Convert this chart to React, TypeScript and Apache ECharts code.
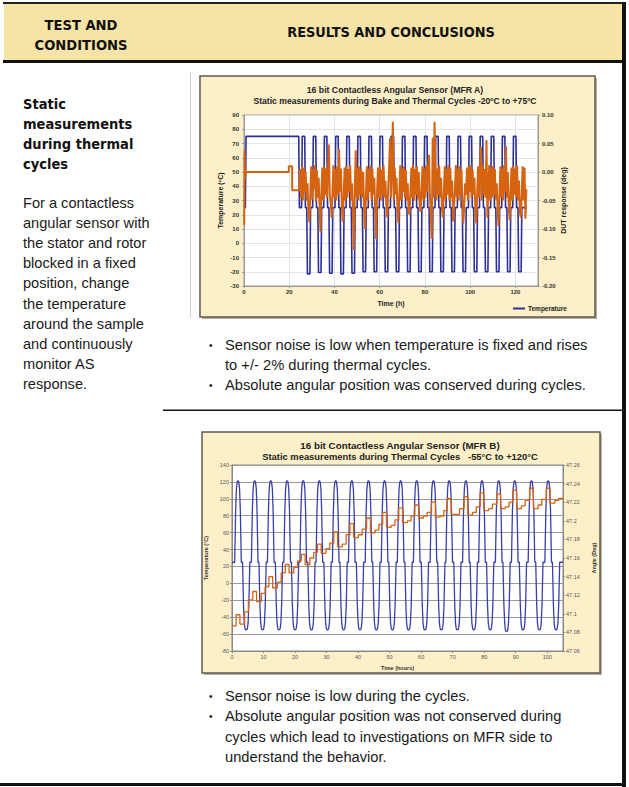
import React, { useEffect, useRef } from "react";
import * as echarts from "echarts";

// ---------- Chart A (MFR A) data ----------
const bakeTempA = [[0, 25], [0.6, 25], [0.9, 75], [24.2, 75], [24.5, 25]];
const highsA = [26.3, 31.2, 36.1, 41.1, 46.0, 50.9, 55.8, 60.7, 65.6, 70.6, 75.5, 80.4, 85.3, 90.2, 95.2, 100.1, 105.0, 109.9, 114.8, 119.7];
const lowsA = [28.6, 33.5, 38.4, 43.4, 48.3, 53.2, 58.1, 63.0, 67.9, 72.9, 77.8, 82.7, 87.6, 92.5, 97.4, 102.4, 107.3, 112.2, 117.1, 122.0];
const lowLevelsA = [-21.5, -20.5, -21, -21.5, -21, -20, -20, -20, -20, -20, -20, -20, -20, -20, -20, -20, -20, -20, -20, -20];
const hotLevelA = 75;
const roomLevelA = 25;
const endTimeA = 125.0;

const responseEarlyA = [[0.1, -0.093], [0.25, 0.0375], [0.45, -0.012], [0.9, 0.0], [19.8, 0.0], [19.8, 0.01], [21.3, 0.01], [21.3, -0.032], [24.4, -0.032]];
const responseStartA = 24.4;
const responseStepA = 0.41;
const responseNoiseA = [
  -0.030, 0.005, -0.045, 0.010, -0.050, 0.008, -0.035, 0.000, -0.050, -0.020, -0.070, -0.088,
  -0.040, 0.010, -0.048, 0.005, -0.030, 0.012, -0.052, 0.004, -0.045, -0.010, -0.060, -0.105,
  -0.035, 0.008, -0.050, 0.010, -0.040, 0.006, -0.045, 0.000, 0.048, -0.040, -0.055, -0.080,
  -0.030, 0.012, -0.045, 0.005, -0.050, 0.010, -0.040, 0.040, -0.035, 0.006, -0.060, -0.087,
  -0.040, 0.008, -0.050, 0.010, -0.045, 0.005, -0.035, 0.012, -0.050, -0.020, -0.075, -0.137,
  -0.030, 0.038, -0.045, 0.008, -0.050, 0.010, -0.040, 0.004, -0.045, 0.000, -0.065, -0.100,
  -0.040, 0.010, -0.050, 0.006, -0.035, 0.012, -0.048, 0.005, -0.040, -0.010, -0.070, -0.118,
  -0.035, 0.008, -0.045, 0.010, -0.050, 0.004, -0.040, 0.012, -0.045, -0.015, -0.060, -0.080,
  -0.030, 0.010, 0.059, -0.045, 0.005, 0.088, -0.050, 0.008, -0.040, -0.010, -0.065, -0.090,
  -0.040, 0.012, -0.050, 0.006, -0.035, 0.010, -0.045, 0.004, -0.050, -0.020, -0.070, -0.075,
  -0.035, 0.008, -0.045, 0.012, -0.050, 0.005, -0.040, 0.010, -0.048, 0.000, -0.060, -0.070,
  -0.030, 0.010, -0.050, 0.006, -0.045, 0.012, -0.035, 0.005, 0.030, -0.040, -0.080, -0.117,
  0.060, -0.045, 0.088, 0.010, -0.050, 0.006, -0.040, 0.012, -0.045, -0.010, -0.065, -0.080,
  -0.035, 0.010, -0.048, 0.005, -0.040, 0.012, -0.050, 0.008, -0.045, -0.015, -0.087, -0.060,
  -0.030, 0.012, -0.045, 0.006, -0.050, 0.010, -0.040, 0.004, -0.050, -0.090, -0.060, -0.020,
  -0.040, 0.008, -0.050, 0.010, -0.035, 0.012, -0.045, 0.005, -0.040, -0.010, -0.070, -0.090,
  -0.035, 0.010, -0.045, 0.006, 0.044, -0.050, 0.012, -0.040, 0.005, -0.045, 0.056, -0.080,
  -0.030, 0.012, -0.050, 0.008, -0.045, 0.010, -0.040, 0.005, -0.048, -0.020, -0.065, -0.095,
  -0.040, 0.010, -0.045, 0.006, -0.050, 0.012, -0.035, 0.045, -0.045, 0.000, -0.060, -0.085,
  -0.035, 0.008, -0.050, 0.010, -0.040, 0.006, -0.045, 0.012, -0.050, -0.015, -0.070, -0.080,
  -0.040, 0.010, -0.050, 0.008, -0.082, -0.030,
];

// ---------- Chart B (MFR B) data ----------
const highsB = [1.9, 7.2, 12.3, 17.5, 22.6, 27.7, 32.9, 38.0, 43.3, 48.4, 53.5, 58.6, 63.9, 68.9, 74.2, 79.3, 84.6, 89.7, 95.0, 100.3];
const lowsB = [4.5, 9.7, 14.9, 20.0, 25.2, 30.3, 35.4, 40.6, 45.8, 50.9, 56.0, 61.2, 66.4, 71.5, 76.7, 81.9, 87.1, 92.3, 97.5, 102.8];
const hotLevelsB = [121.5, 121.5, 121.5, 121.5, 121.5, 121.5, 121.5, 121.5, 121.5, 121.5, 121.5, 121.5, 121.5, 121.5, 121.5, 121.5, 121.5, 121.5, 121.5, 121.5];
const coldLevelsB = [-55, -55, -55, -55, -55, -55, -55, -55, -55, -55, -55, -55, -55, -55, -55, -55, -57, -55, -55, -55];
const roomLevelB = 25;
const endTimeB = 105;

const angleStartB = 47.087;
const anglePeaksB = [47.099, 47.124, 47.140, 47.153, 47.164, 47.175, 47.188, 47.197, 47.203, 47.209, 47.214, 47.217, 47.220, 47.224, 47.226, 47.230, 47.229, 47.233, 47.235, 47.235];
const angleDipsB = [47.089, 47.113, 47.128, 47.144, 47.153, 47.165, 47.172, 47.182, 47.187, 47.193, 47.198, 47.203, 47.204, 47.207, 47.206, 47.211, 47.213, 47.213, 47.213, 47.219];
const angleRiseAB = [47.102, 47.122, 47.134, 47.150, 47.160, 47.170, 47.175, 47.185, 47.190, 47.195, 47.200, 47.205, 47.205, 47.207, 47.209, 47.213, 47.215, 47.216, 47.217, 47.222];
const angleRiseBB = [47.115, 47.129, 47.144, 47.157, 47.166, 47.176, 47.185, 47.191, 47.196, 47.201, 47.205, 47.209, 47.211, 47.213, 47.215, 47.218, 47.220, 47.222, 47.223, 47.224];

// ---------- Texts ----------
const headerLeft = ["TEST AND", "CONDITIONS"];
const headerRight = "RESULTS AND CONCLUSIONS";
const headingLines = ["Static", "measurements", "during thermal", "cycles"];
const bodyLines = ["For a contactless", "angular sensor with", "the stator and rotor", "blocked in a fixed", "position, change", "the temperature", "around the sample", "and continuously", "monitor AS", "response."];
const bulletsA = [["Sensor noise is low when temperature is fixed and rises", "to +/- 2% during thermal cycles."], ["Absolute angular position was conserved during cycles."]];
const bulletsB = [["Sensor noise is low during the cycles."], ["Absolute angular position was not conserved during", "cycles which lead to investigations on MFR side to", "understand the behavior."]];
const titleA = ["16 bit Contactless Angular Sensor (MFR A)", "Static measurements during Bake and Thermal Cycles -20ºC to +75ºC"];
const titleB = ["16 bit Contactless Angular Sensor (MFR B)", "Static measurements during Thermal Cycles   -55°C to +120°C"];

// ---------- Build series tables ----------
function buildTempA() {
  const pts: number[][] = bakeTempA.map((p) => [p[0], p[1]]);
  highsA.forEach((h, i) => {
    pts.push([h - 0.85, roomLevelA], [h - 0.55, hotLevelA], [h + 0.55, hotLevelA], [h + 0.85, roomLevelA]);
    const l = lowsA[i];
    const lv = lowLevelsA[i];
    pts.push([l - 0.85, roomLevelA], [l - 0.55, lv], [l + 0.55, lv], [l + 0.85, roomLevelA]);
  });
  pts.push([endTimeA, roomLevelA]);
  return pts;
}
function buildRespA() {
  const pts: number[][] = responseEarlyA.map((p) => [p[0], p[1]]);
  responseNoiseA.forEach((v, i) => pts.push([responseStartA + i * responseStepA, v]));
  return pts;
}
function buildTempB() {
  const pts: number[][] = [[0, roomLevelB]];
  highsB.forEach((h, i) => {
    const hv = hotLevelsB[i];
    pts.push([h - 1.05, roomLevelB], [h - 0.75, 85], [h - 0.5, 112], [h - 0.25, hv - 1.5], [h, hv], [h + 0.25, hv - 1.5], [h + 0.5, 112], [h + 0.75, 85], [h + 1.05, roomLevelB]);
    const l = lowsB[i];
    const lv = coldLevelsB[i];
    pts.push([l - 1.15, roomLevelB], [l - 0.85, -25], [l - 0.6, -47], [l - 0.35, lv + 1], [l, lv], [l + 0.35, lv + 1], [l + 0.6, -47], [l + 0.85, -25], [l + 1.15, roomLevelB]);
  });
  pts.push([endTimeB, roomLevelB]);
  return pts;
}
function buildAngleB() {
  const pts: number[][] = [[0, angleStartB]];
  highsB.forEach((h, i) => {
    const next = i < highsB.length - 1 ? highsB[i + 1] - 0.6 : endTimeB;
    pts.push(
      [h - 0.6, i === 0 ? angleStartB : angleRiseBB[i - 1]],
      [h - 0.6, anglePeaksB[i]], [h + 0.6, anglePeaksB[i]],
      [h + 0.6, angleDipsB[i]], [h + 2.1, angleDipsB[i]],
      [h + 2.1, angleRiseAB[i]], [h + 3.3, angleRiseAB[i]],
      [h + 3.3, angleRiseBB[i]], [next, angleRiseBB[i]]
    );
  });
  return pts;
}

const SANS = "'Liberation Sans', Arial, sans-serif";
const COND = "'DejaVu Sans Condensed', 'DejaVu Sans', sans-serif";
const BLUE_A = "#2c2f95";
const BLUE_B = "#3a3eaa";
const ORANGE = "#d5630f";

function txt(text: string, x: number, y: number, size: number, opts: any = {}) {
  return {
    type: "text",
    x,
    y,
    z: 10,
    style: {
      text,
      fill: opts.fill || "#1a1a1a",
      fontSize: size,
      fontWeight: opts.weight || "normal",
      fontFamily: opts.family || SANS,
      align: opts.align || "left",
      verticalAlign: "middle",
    },
  };
}

export default function App() {
  const ref = useRef<HTMLDivElement>(null);
  useEffect(() => {
    if (!ref.current) return;
    const chart = echarts.init(ref.current, undefined, { renderer: "svg" });

    const graphic: any[] = [
      { type: "rect", z: -20, shape: { x: 0, y: 0, width: 629, height: 787 }, style: { fill: "#ffffff" } },
      { type: "rect", z: -10, shape: { x: 4, y: 3, width: 620, height: 58 }, style: { fill: "#f6e3a6" } },
      { type: "rect", z: 5, shape: { x: 3, y: 2, width: 622, height: 2 }, style: { fill: "#222" } },
      { type: "rect", z: 5, shape: { x: 3, y: 60, width: 622, height: 3 }, style: { fill: "#111" } },
      { type: "rect", z: 5, shape: { x: 622, y: 2, width: 4, height: 785 }, style: { fill: "#111" } },
      { type: "rect", z: 5, shape: { x: 0, y: 783, width: 626, height: 3 }, style: { fill: "#111" } },
      { type: "rect", z: 5, shape: { x: 163, y: 409.5, width: 460, height: 1.5 }, style: { fill: "#111" } },
      { type: "line", z: 5, shape: { x1: 190.5, y1: 72, x2: 190.5, y2: 318 }, style: { stroke: "#cfcfcf", lineWidth: 1 } },
      // chart frames
      { type: "rect", z: -9, shape: { x: 202, y: 78, width: 395, height: 241 }, style: { fill: "#b8b0a0" } },
      { type: "rect", z: -8, shape: { x: 200, y: 76, width: 395, height: 241 }, style: { fill: "#fdf0c9", stroke: "#5e5a50", lineWidth: 1.5 } },
      { type: "rect", z: -9, shape: { x: 204, y: 434, width: 398, height: 241 }, style: { fill: "#b8b0a0" } },
      { type: "rect", z: -8, shape: { x: 202, y: 432, width: 398, height: 241 }, style: { fill: "#fdf0c9", stroke: "#5e5a50", lineWidth: 1.5 } },
    ];
    graphic.push(txt(headerLeft[0], 81, 24, 14.6, { weight: "bold", family: COND, align: "center", fill: "#111" }));
    graphic.push(txt(headerLeft[1], 81, 44, 14.6, { weight: "bold", family: COND, align: "center", fill: "#111" }));
    graphic.push(txt(headerRight, 391, 32, 14.4, { weight: "bold", family: COND, align: "center", fill: "#111" }));
    headingLines.forEach((s, i) => graphic.push(txt(s, 23, 104 + i * 20, 14.5, { weight: "bold", family: COND, fill: "#111" })));
    bodyLines.forEach((s, i) => graphic.push(txt(s, 23, 203 + i * 20.1, 14.6)));
    let row = 0;
    bulletsA.forEach((b) => {
      graphic.push(txt("•", 209, 345 + row * 20, 10));
      b.forEach((s) => { graphic.push(txt(s, 225, 345 + row * 20, 14.7)); row++; });
    });
    row = 0;
    bulletsB.forEach((b) => {
      graphic.push(txt("•", 209, 696 + row * 20.4, 10));
      b.forEach((s) => { graphic.push(txt(s, 225, 696 + row * 20.4, 14.7)); row++; });
    });
    graphic.push(txt(titleA[0], 395, 90, 8.7, { weight: "bold", align: "center", fill: "#222" }));
    graphic.push(txt(titleA[1], 395, 101, 8.6, { weight: "bold", align: "center", fill: "#222" }));
    graphic.push(txt(titleB[0], 400, 445, 9.8, { weight: "bold", align: "center", fill: "#222" }));
    graphic.push(txt(titleB[1], 400, 456, 9.4, { weight: "bold", align: "center", fill: "#222" }));

    const tickA = { fontSize: 6, fontWeight: "bold", color: "#333", fontFamily: SANS };
    const nameA = { fontSize: 7, fontWeight: "bold", color: "#222", fontFamily: SANS };
    const tickB = { fontSize: 5.5, color: "#555", fontFamily: SANS };
    const nameB = { fontSize: 5.5, fontWeight: "bold", color: "#333", fontFamily: SANS };

    const option: any = {
      animation: false,
      graphic,
      legend: {
        data: ["Temperature"],
        left: 508,
        top: 300,
        icon: "rect",
        itemWidth: 12,
        itemHeight: 2,
        itemGap: 2,
        textStyle: { fontSize: 6.5, fontWeight: "bold", color: "#222", fontFamily: SANS, padding: [0, 0, 0, -2] },
      },
      grid: [
        { left: 244, top: 115, width: 294, height: 171, show: true, backgroundColor: "#ffffff", borderColor: "#9a9a9a", borderWidth: 1 },
        { left: 232, top: 465, width: 331, height: 186, show: true, backgroundColor: "#ffffff", borderColor: "#888", borderWidth: 1 },
      ],
      xAxis: [
        {
          gridIndex: 0, type: "value", min: 0, max: 130, interval: 20,
          name: "Time (h)", nameLocation: "middle", nameGap: 14, nameTextStyle: nameA,
          axisLine: { onZero: false, lineStyle: { color: "#999" } },
          axisTick: { length: 2, lineStyle: { color: "#999" } },
          axisLabel: { ...tickA, margin: 3, showMaxLabel: false },
          splitLine: { show: true, lineStyle: { color: "#dcdcdc", width: 0.8 } },
        },
        {
          gridIndex: 1, type: "value", min: 0, max: 105, interval: 10,
          name: "Time (hours)", nameLocation: "middle", nameGap: 14, nameTextStyle: nameB,
          axisLine: { onZero: false, lineStyle: { color: "#888" } },
          axisTick: { length: 2, lineStyle: { color: "#888" } },
          axisLabel: { ...tickB, margin: 3, showMaxLabel: false },
          splitLine: { show: false },
        },
      ],
      yAxis: [
        {
          gridIndex: 0, type: "value", min: -30, max: 90, interval: 10,
          name: "Temperature (ºC)", nameLocation: "middle", nameRotate: 90, nameGap: 20, nameTextStyle: nameA,
          axisLine: { show: true, onZero: false, lineStyle: { color: "#999" } },
          axisTick: { show: true, length: 2, lineStyle: { color: "#999" } },
          axisLabel: { ...tickA, margin: 5 },
          splitLine: { show: true, lineStyle: { color: "#dcdcdc", width: 0.8 } },
        },
        {
          gridIndex: 0, type: "value", position: "right", min: -0.2, max: 0.1, interval: 0.05,
          name: "DUT response (deg)", nameLocation: "middle", nameRotate: 90, nameGap: 21, nameTextStyle: nameA,
          axisLine: { show: true, onZero: false, lineStyle: { color: "#999" } },
          axisTick: { show: true, length: 2, lineStyle: { color: "#999" } },
          axisLabel: { ...tickA, margin: 4, formatter: (v: number) => v.toFixed(2) },
          splitLine: { show: false },
        },
        {
          gridIndex: 1, type: "value", min: -80, max: 140, interval: 20,
          name: "Temperature (°C)", nameLocation: "middle", nameRotate: 90, nameGap: 17, nameTextStyle: nameB,
          axisLine: { show: true, onZero: false, lineStyle: { color: "#888" } },
          axisTick: { show: true, length: 2, lineStyle: { color: "#888" } },
          axisLabel: { ...tickB, margin: 3 },
          splitLine: { show: true, lineStyle: { color: "#9a9a9a", width: 1.1 } },
        },
        {
          gridIndex: 1, type: "value", position: "right", min: 47.06, max: 47.26, interval: 0.02,
          name: "Angle (Deg)", nameLocation: "middle", nameRotate: 90, nameGap: 26, nameTextStyle: nameB,
          axisLine: { show: true, onZero: false, lineStyle: { color: "#888" } },
          axisTick: { show: true, length: 2, lineStyle: { color: "#888" } },
          axisLabel: { ...tickB, margin: 3, formatter: (v: number) => String(parseFloat(v.toFixed(2))) },
          splitLine: { show: false },
        },
      ],
      series: [
        {
          name: "Temperature", type: "line", xAxisIndex: 0, yAxisIndex: 0, data: buildTempA(),
          symbol: "none", lineStyle: { color: BLUE_A, width: 1.6 }, itemStyle: { color: BLUE_A }, z: 2,
        },
        {
          name: "DUT response", type: "line", xAxisIndex: 0, yAxisIndex: 1, data: buildRespA(),
          symbol: "none", lineStyle: { color: ORANGE, width: 2 }, itemStyle: { color: ORANGE }, z: 3,
        },
        {
          name: "Temperature B", type: "line", xAxisIndex: 1, yAxisIndex: 2, data: buildTempB(),
          symbol: "none", lineStyle: { color: BLUE_B, width: 1.3 }, itemStyle: { color: BLUE_B }, z: 2,
        },
        {
          name: "Angle B", type: "line", xAxisIndex: 1, yAxisIndex: 3, data: buildAngleB(),
          symbol: "none", lineStyle: { color: ORANGE, width: 1.3 }, itemStyle: { color: ORANGE }, z: 3,
        },
      ],
    };
    chart.setOption(option);
    return () => chart.dispose();
  }, []);
  return <div ref={ref} style={{ position: "absolute", left: 0, top: 0, width: 629, height: 787 }} />;
}
